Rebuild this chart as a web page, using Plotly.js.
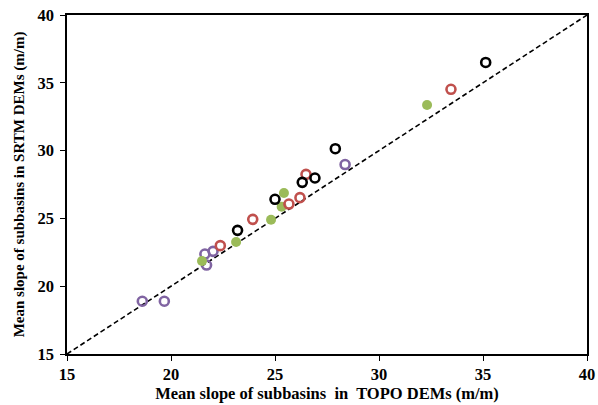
<!DOCTYPE html>
<html>
<head>
<meta charset="utf-8">
<script src="https://cdn.plot.ly/plotly-3.0.1.min.js"></script>
<style>html,body{margin:0;padding:0;background:#fff;}#chart{width:598px;height:405px;}</style>
</head>
<body>
<div id="chart"></div>
<script>
// Data (TOPO slope x, SRTM slope y)
const blackX = [35.13, 27.9, 26.31, 26.92, 25.0, 23.2];
const blackY = [36.5, 30.14, 27.66, 27.98, 26.41, 24.12];
const redX = [33.46, 26.49, 26.2, 25.67, 23.93, 22.37];
const redY = [34.52, 28.25, 26.53, 26.06, 24.93, 22.99];
const greenX = [32.31, 25.43, 25.32, 24.81, 23.13, 21.49];
const greenY = [33.36, 26.87, 25.86, 24.9, 23.26, 21.86];
const purpleX = [28.37, 22.02, 21.63, 21.71, 18.62, 19.68];
const purpleY = [28.97, 22.57, 22.37, 21.56, 18.89, 18.89];
const lineX = [15, 40];
const lineY = [15, 40];
const tickVals = [15, 20, 25, 30, 35, 40];

const openMarker = (c) => ({symbol: 'circle-open', size: 9, color: c, line: {width: 2.6, color: c}});

const traces = [
  {x: lineX, y: lineY, mode: 'lines', line: {color: '#000', width: 1.6, dash: '5px,3px'}, hoverinfo: 'skip'},
  {x: purpleX, y: purpleY, mode: 'markers', marker: openMarker('#8064a2')},
  {x: greenX, y: greenY, mode: 'markers', marker: {symbol: 'circle', size: 10, color: '#9bbb59'}},
  {x: redX, y: redY, mode: 'markers', marker: openMarker('#c0504d')},
  {x: blackX, y: blackY, mode: 'markers', marker: openMarker('#000000')}
];

const serif = '"Liberation Serif", "Times New Roman", serif';
const tickFont = {family: serif, size: 16.5, color: '#000', weight: 'bold'};

const layout = {
  width: 598, height: 405,
  margin: {l: 67, r: 11, t: 15, b: 51},
  paper_bgcolor: '#fff', plot_bgcolor: '#fff',
  showlegend: false,
  xaxis: {
    range: [15, 40], tickvals: tickVals, ticktext: tickVals.map(String),
    showgrid: false, zeroline: false,
    showline: true, linecolor: '#000', linewidth: 1.6, mirror: true,
    ticks: 'outside', ticklen: 5, tickcolor: '#000', tickwidth: 1,
    tickfont: tickFont,
    title: {text: 'Mean slope of subbasins&nbsp; in&nbsp; TOPO DEMs (m/m)', font: {family: serif, size: 16.5, color: '#000', weight: 'bold'}, standoff: 4}
  },
  yaxis: {
    range: [15, 40], tickvals: tickVals, ticktext: tickVals.map(String),
    showgrid: false, zeroline: false,
    showline: true, linecolor: '#000', linewidth: 1.6, mirror: true,
    ticks: 'outside', ticklen: 5, tickcolor: '#000', tickwidth: 1,
    ticklabelstandoff: 3,
    tickfont: tickFont,
    title: {text: 'Mean slope of subbasins in SRTM DEMs (m/m)', font: {family: serif, size: 15, color: '#000', weight: 'bold'}, standoff: 9}
  }
};

Plotly.newPlot('chart', traces, layout, {staticPlot: true, displayModeBar: false});
</script>
</body>
</html>
